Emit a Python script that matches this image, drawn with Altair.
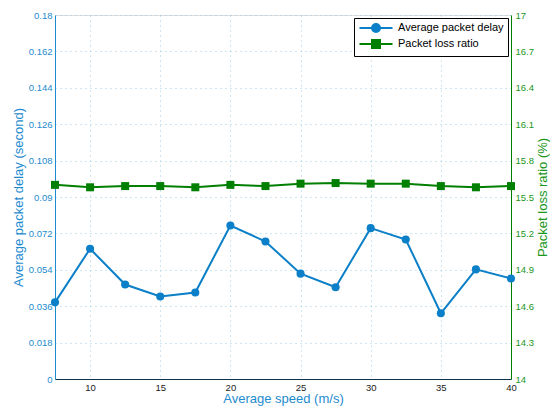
import altair as alt
import pandas as pd

speeds = [7.5, 10, 12.5, 15, 17.5, 20, 22.5, 25, 27.5, 30, 32.5, 35, 37.5, 40]
delay = [0.0379, 0.0644, 0.0467, 0.0408, 0.0428, 0.0759, 0.0680, 0.0521,
         0.0454, 0.0746, 0.0690, 0.0325, 0.0542, 0.0497]
loss = [15.60, 15.58, 15.59, 15.59, 15.58, 15.60, 15.59, 15.61,
        15.615, 15.61, 15.61, 15.59, 15.58, 15.59]
series_names = ["Average packet delay", "Packet loss ratio"]
x_ticks = [10, 15, 20, 25, 30, 35, 40]
left_ticks = [0, 0.018, 0.036, 0.054, 0.072, 0.09, 0.108, 0.126, 0.144, 0.162, 0.18]
right_ticks = [14, 14.3, 14.6, 14.9, 15.2, 15.5, 15.8, 16.1, 16.4, 16.7, 17]

BLUE = "#0b7fc7"
AXBLUE = "#1d8bd0"
GREEN = "#007f00"
AXGREEN = "#1a961a"
FONT = "Liberation Sans"
LBL = 9.5
TTL = 13

df = pd.DataFrame({"speed": speeds, "delay": delay, "loss": loss})

xenc = alt.X("speed:Q", scale=alt.Scale(domain=[7.5, 40], nice=False),
             axis=alt.Axis(values=x_ticks, title="Average speed (m/s)",
                           titleColor=AXBLUE, labelColor="#1a1a1a",
                           domainColor="#10324a", tickColor="#10324a",
                           grid=True, gridColor="#9ccbe8", gridDash=[1, 4],
                           labelFontSize=LBL, titleFontSize=TTL,
                           titleFontWeight="normal", labelPadding=3,
                           titlePadding=1, tickSize=0, labelFont=FONT, titleFont=FONT,
                           labelFlush=False))

yleft = alt.Y("delay:Q", scale=alt.Scale(domain=[0, 0.18], nice=False),
              axis=alt.Axis(values=left_ticks, format=".3~g", title="Average packet delay (second)",
                            titleColor=AXBLUE, labelColor=AXBLUE, domainColor=AXBLUE,
                            tickColor=AXBLUE, grid=True, gridColor="#9ccbe8",
                            gridDash=[1, 4], labelFontSize=LBL, titleFontSize=TTL,
                            titleFontWeight="normal", labelPadding=3, titlePadding=3,
                            tickSize=0, labelFont=FONT, titleFont=FONT,
                            labelFlush=False))

yright = alt.Y("loss:Q", scale=alt.Scale(domain=[14, 17], nice=False),
               axis=alt.Axis(values=right_ticks, format=".3~g", orient="right",
                             title="Packet loss ratio (%)", titleColor=AXGREEN,
                             labelColor=AXGREEN, domainColor=GREEN, tickColor=GREEN,
                             grid=False, labelFontSize=LBL, titleFontSize=TTL,
                             titleFontWeight="normal", labelPadding=4, titlePadding=3,
                             titleAngle=270, titleBaseline="top", tickSize=0,
                             labelFont=FONT, titleFont=FONT, labelFlush=False))

base = alt.Chart(df)
left = alt.layer(
    base.mark_line(color=BLUE, strokeWidth=2).encode(x=xenc, y=yleft),
    base.mark_point(color=BLUE, filled=True, opacity=1, shape="circle", size=65).encode(x=xenc, y=yleft),
)
right = alt.layer(
    base.mark_line(color=GREEN, strokeWidth=2).encode(x=xenc, y=yright),
    base.mark_point(color=GREEN, filled=True, opacity=1, shape="square", size=64).encode(x=xenc, y=yright),
)

circle_path = "M-3.3,0L3.3,0M0.8,0A0.8,0.8,0,1,1,-0.8,0A0.8,0.8,0,1,1,0.8,0Z"
square_path = "M-3.3,0L3.3,0M-0.8,-0.8L0.8,-0.8L0.8,0.8L-0.8,0.8Z"

leg_df = pd.DataFrame({"series": series_names})
leg_legend = alt.Legend(title=None, orient="top-right", offset=3,
                        strokeColor="black", fillColor="white", padding=4,
                        symbolSize=100, symbolStrokeWidth=2, labelFontSize=11,
                        labelFont=FONT, labelColor="black", rowPadding=0,
                        symbolOffset=12, labelOffset=16, symbolOpacity=1)
legend_layer = alt.Chart(leg_df).transform_filter("false").mark_point(filled=True, opacity=1).encode(
    fill=alt.Fill("series:N", scale=alt.Scale(domain=series_names, range=[BLUE, GREEN]), legend=leg_legend),
    stroke=alt.Stroke("series:N", scale=alt.Scale(domain=series_names, range=[BLUE, GREEN]), legend=leg_legend),
    shape=alt.Shape("series:N", scale=alt.Scale(domain=series_names, range=[circle_path, square_path]), legend=leg_legend),
)

chart = alt.layer(left, right, legend_layer).resolve_scale(y="independent").properties(
    width=456, height=364,
    autosize=alt.AutoSizeParams(type="none"),
    padding={"left": 47, "top": 7, "right": 39, "bottom": 29},
).configure_view(stroke=AXBLUE, strokeWidth=1.5).configure(background="white")

chart.save("out.html", embed_options={"renderer": "svg", "actions": False})
